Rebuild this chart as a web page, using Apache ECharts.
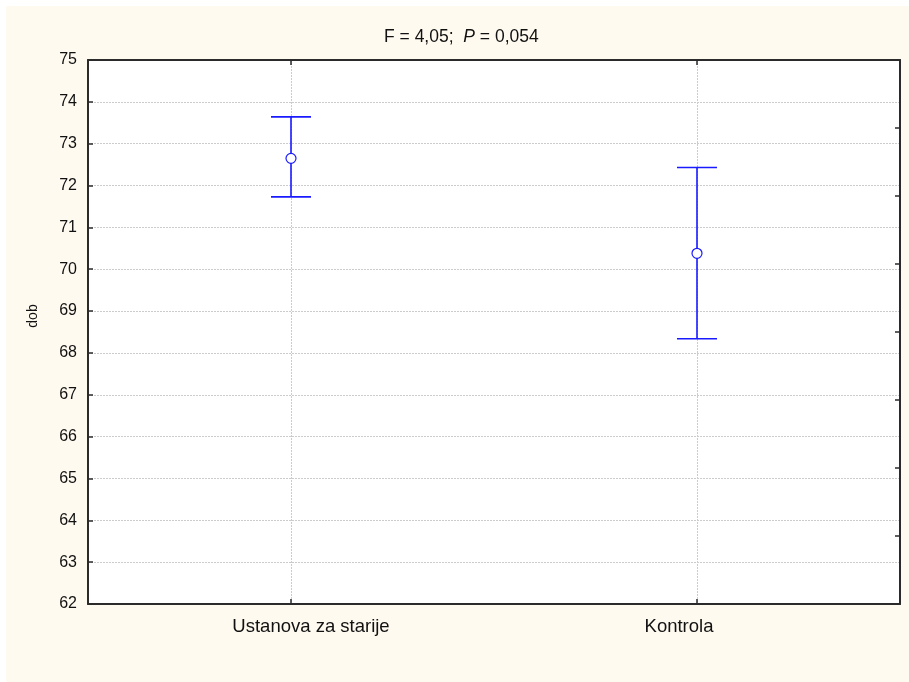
<!DOCTYPE html>
<html>
<head>
<meta charset="utf-8">
<script src="https://cdn.jsdelivr.net/npm/echarts@6/dist/echarts.min.js"></script>
<style>
  html, body { margin: 0; padding: 0; background: #ffffff; }
  #bg { position: absolute; left: 6px; top: 6px; right: 0; bottom: 0; background: #fffaf0; }
  #chart { position: absolute; left: 0; top: 0; width: 909px; height: 682px; }
</style>
</head>
<body>
<div id="bg"></div>
<div id="chart"></div>
<script>
const categories = ['Ustanova za starije', 'Kontrola'];
const means = [72.65, 70.38];
const upper = [73.64, 72.43];
const lower = [71.73, 68.34];
const yMin = 62, yMax = 75, yStep = 1;
const titleF = 'F = 4,05;  ';
const titleP = 'P';
const titleRest = ' = 0,054';
const yName = 'dob';

const FONT = '"Liberation Sans", Arial, sans-serif';
const BLUE = '#1a1aff';
const AXIS = '#2b2b2b';

const errData = categories.map((c, i) => [i, means[i], upper[i], lower[i]]);
const meanData = categories.map((c, i) => [i, means[i]]);

const chart = echarts.init(document.getElementById('chart'), null, { renderer: 'canvas' });
chart.setOption({
  backgroundColor: 'transparent',
  animation: false,
  title: {
    text: '{n|' + titleF + '}{i|' + titleP + '}{n|' + titleRest + '}',
    left: 379, top: 23,
    textStyle: {
      fontWeight: 'normal',
      rich: {
        n: { fontFamily: FONT, fontSize: 17.5, fontWeight: 'normal', color: '#111' },
        i: { fontFamily: FONT, fontSize: 17.5, fontWeight: 'normal', fontStyle: 'italic', color: '#111' }
      }
    }
  },
  grid: { left: 88, right: 9, top: 60, bottom: 78, show: true, backgroundColor: '#ffffff', borderWidth: 0 },
  xAxis: [{
    type: 'category', data: categories, position: 'bottom', boundaryGap: true,
    axisLine: { show: true, lineStyle: { color: AXIS, width: 2 } },
    axisTick: { show: true, inside: true, length: 5, alignWithLabel: true, lineStyle: { color: AXIS, width: 1.5 } },
    axisLabel: {
      fontFamily: FONT, fontSize: 18.5, color: '#111', margin: 13,
      formatter: function (v, i) { return (i === 0 ? '{a|' : '{b|') + v + '}'; },
      rich: {
        a: { fontFamily: FONT, fontSize: 18.5, color: '#111', padding: [0, 0, 0, 40] },
        b: { fontFamily: FONT, fontSize: 18.5, color: '#111', padding: [0, 36, 0, 0] }
      }
    },
    splitLine: { show: true, alignWithLabel: true, lineStyle: { color: '#cccccc', type: [2, 1], width: 1 } }
  }, {
    type: 'category', data: categories, position: 'top', boundaryGap: true,
    axisLine: { show: true, lineStyle: { color: AXIS, width: 2 } },
    axisTick: { show: true, inside: true, length: 5, alignWithLabel: true, lineStyle: { color: AXIS, width: 1.5 } },
    axisLabel: { show: false },
    splitLine: { show: false }
  }],
  yAxis: [{
    type: 'value', min: yMin, max: yMax, interval: yStep, position: 'left',
    name: yName, nameLocation: 'middle', nameGap: 48, nameRotate: 90,
    nameTextStyle: { fontFamily: FONT, fontSize: 14, color: '#111', padding: [0, 0, 0, 32] },
    axisLine: { show: true, lineStyle: { color: AXIS, width: 2 } },
    axisTick: { show: true, inside: true, length: 5, lineStyle: { color: AXIS, width: 1.5 } },
    axisLabel: { fontFamily: FONT, fontSize: 16, color: '#111', margin: 11 },
    splitLine: { show: true, lineStyle: { color: '#cccccc', type: [2, 1], width: 1 } }
  }, {
    type: 'value', min: 0, max: 8, interval: 1, position: 'right',
    axisLine: { show: true, lineStyle: { color: AXIS, width: 2 } },
    axisTick: { show: true, inside: true, length: 5, lineStyle: { color: AXIS, width: 1.5 } },
    axisLabel: { show: false },
    splitLine: { show: false }
  }],
  series: [{
    type: 'custom',
    xAxisIndex: 0, yAxisIndex: 0,
    data: errData,
    z: 3,
    renderItem: function (params, api) {
      const x = api.value(0);
      const hi = api.coord([x, api.value(2)]);
      const lo = api.coord([x, api.value(3)]);
      const hw = 20;
      const st = { stroke: BLUE, lineWidth: 1.6 };
      return {
        type: 'group',
        children: [
          { type: 'line', shape: { x1: hi[0], y1: hi[1], x2: lo[0], y2: lo[1] }, style: st },
          { type: 'line', shape: { x1: hi[0] - hw, y1: hi[1], x2: hi[0] + hw, y2: hi[1] }, style: st },
          { type: 'line', shape: { x1: lo[0] - hw, y1: lo[1], x2: lo[0] + hw, y2: lo[1] }, style: st }
        ]
      };
    }
  }, {
    type: 'scatter',
    xAxisIndex: 0, yAxisIndex: 0,
    data: meanData,
    symbol: 'circle', symbolSize: 10,
    z: 4,
    itemStyle: { color: '#ffffff', borderColor: BLUE, borderWidth: 1.2, opacity: 1 }
  }]
});
</script>
</body>
</html>
